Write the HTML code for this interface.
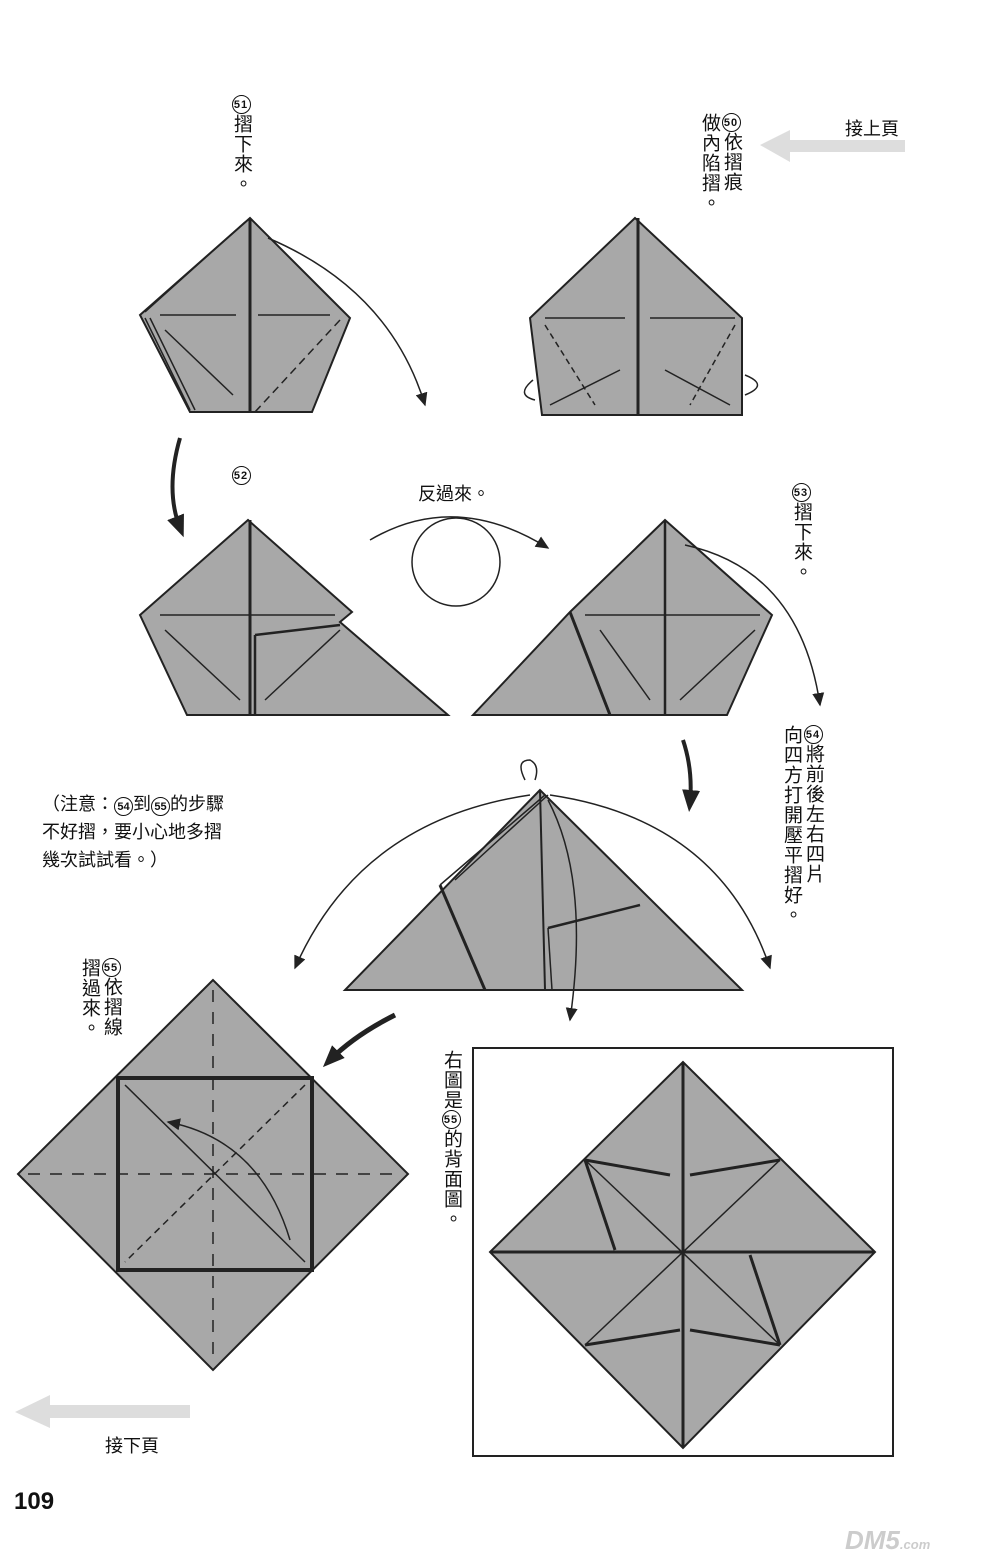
<!DOCTYPE html>
<html><head><meta charset="utf-8"><style>
body{margin:0;background:#fff;}
.v{position:absolute;writing-mode:vertical-rl;font-family:"Liberation Sans","Noto Sans CJK TC",sans-serif;font-size:19px;line-height:22px;color:#111;letter-spacing:1px;}
.h{position:absolute;font-family:"Liberation Sans","Noto Sans CJK TC",sans-serif;font-size:18px;color:#111;}
.c{display:inline-block;width:19px;height:19px;border:1.5px solid #111;border-radius:50%;font-size:11px;line-height:19px;text-align:center;writing-mode:horizontal-tb;font-weight:bold;box-sizing:border-box;background:#fff;}
</style></head><body>
<div style="position:relative;width:1000px;height:1567px;overflow:hidden">
<svg width="1000" height="1567" style="position:absolute;left:0;top:0" fill="none" stroke="#222" stroke-width="2">
<defs><marker id="a" markerWidth="10" markerHeight="10" refX="8" refY="5" orient="auto"><path d="M0,1 L9,5 L0,9 z" fill="#222" stroke="none"/></marker>
<marker id="b" markerUnits="userSpaceOnUse" markerWidth="24" markerHeight="24" refX="12" refY="12" orient="auto"><path d="M0,3 L22,12 L0,21 z" fill="#222" stroke="none"/></marker></defs>
<g fill="#a8a8a8">
<polygon points="250,218 140,315 190,412 312,412 350,318"/>
<polygon points="635,218 530,318 542,415 742,415 742,318"/>
<polygon points="248,520 140,615 187,715 448,715 340,622 352,612"/>
<polygon points="665,520 772,615 727,715 473,715 570,612"/>
<polygon points="540,790 345,990 742,990"/>
<polygon points="213,980 18,1174 213,1370 408,1174"/>
<polygon points="683,1062 490,1252 683,1448 875,1252"/>
</g>
<g stroke-width="1.5">
<line x1="250" y1="218" x2="250" y2="412" stroke-width="3"/>
<line x1="160" y1="315" x2="236" y2="315"/><line x1="258" y1="315" x2="330" y2="315"/>
<line x1="165" y1="330" x2="233" y2="395"/>
<line x1="340" y1="320" x2="255" y2="412" stroke-dasharray="8,5"/>
<path d="M145,318 L190,410 M150,318 L195,410 M245,222 L145,312"/>
<path d="M268,238 Q390,290 425,405" marker-end="url(#a)"/>
<line x1="638" y1="218" x2="638" y2="415" stroke-width="3"/>
<line x1="545" y1="318" x2="625" y2="318"/><line x1="650" y1="318" x2="735" y2="318"/>
<path d="M545,325 L595,405 M735,325 L690,405" stroke-dasharray="6,4"/>
<path d="M550,405 L620,370 M730,405 L665,370"/>
<path d="M533,380 Q515,395 535,400 M745,375 Q770,385 745,395"/>
<line x1="250" y1="520" x2="250" y2="715" stroke-width="3"/>
<line x1="160" y1="615" x2="335" y2="615"/>
<line x1="255" y1="635" x2="340" y2="625" stroke-width="2.5"/><line x1="255" y1="635" x2="255" y2="715" stroke-width="2.5"/>
<line x1="165" y1="630" x2="240" y2="700"/><line x1="265" y1="700" x2="340" y2="630"/>
<line x1="570" y1="612" x2="610" y2="715" stroke-width="3"/>
<line x1="665" y1="520" x2="665" y2="715" stroke-width="2.5"/>
<line x1="585" y1="615" x2="760" y2="615"/><line x1="600" y1="630" x2="650" y2="700"/><line x1="680" y1="700" x2="755" y2="630"/>
<path d="M685,545 Q800,570 820,705" marker-end="url(#a)"/>
<path d="M370,540 Q455,490 548,548" marker-end="url(#a)"/>
<circle cx="456" cy="562" r="44"/>
<path d="M180,438 Q165,490 180,528" stroke-width="4" marker-end="url(#b)"/>
<path d="M683,740 Q693,770 690,802" stroke-width="4" marker-end="url(#b)"/>
<line x1="440" y1="885" x2="485" y2="990" stroke-width="3"/>
<line x1="540" y1="790" x2="545" y2="990" stroke-width="2"/>
<line x1="548" y1="928" x2="640" y2="905" stroke-width="2.5"/><line x1="548" y1="928" x2="552" y2="990"/>
<path d="M545,795 L440,885 M548,795 L455,880"/>
<path d="M530,795 Q360,820 295,968" marker-end="url(#a)"/>
<path d="M550,795 Q720,820 770,968" marker-end="url(#a)"/>
<path d="M548,800 Q590,880 570,1020" marker-end="url(#a)"/>
<path d="M525,780 Q515,760 530,760 Q540,765 535,780"/>
<path d="M395,1015 Q355,1035 330,1060" stroke-width="5" marker-end="url(#b)"/>
<rect x="118" y="1078" width="194" height="192" stroke-width="4"/>
<line x1="125" y1="1085" x2="305" y2="1262"/><line x1="305" y1="1085" x2="125" y2="1262" stroke-dasharray="7,5"/>
<line x1="213" y1="990" x2="213" y2="1360" stroke-dasharray="12,10"/>
<line x1="28" y1="1174" x2="400" y2="1174" stroke-dasharray="12,10"/>
<path d="M290,1240 Q260,1140 168,1122" marker-end="url(#a)"/>
<line x1="683" y1="1062" x2="683" y2="1448" stroke-width="3"/>
<line x1="490" y1="1252" x2="875" y2="1252" stroke-width="3"/>
<line x1="585" y1="1160" x2="780" y2="1345"/><line x1="780" y1="1160" x2="585" y2="1345"/>
<path d="M585,1160 L615,1250 M585,1160 L670,1175 M780,1160 L690,1175 M780,1345 L750,1255 M780,1345 L690,1330 M585,1345 L680,1330" stroke-width="3"/>
<rect x="473" y="1048" width="420" height="408" stroke-width="2"/>
</g>
<path d="M760,145 L790,130 L790,140 L905,140 L905,152 L790,152 L790,162 z" fill="#ddd" stroke="none"/>
<path d="M15,1412 L50,1395 L50,1405 L190,1405 L190,1418 L50,1418 L50,1428 z" fill="#ddd" stroke="none"/>
</svg>
<div class="v" style="left:230px;top:95px"><span class="c">51</span>摺下來。</div>
<div class="v" style="left:698px;top:113px"><span class="c">50</span>依摺痕<br>做內陷摺。</div>
<div class="h" style="left:845px;top:115px">接上頁</div>
<div class="h" style="left:105px;top:1432px">接下頁</div>
<div class="v" style="left:230px;top:466px"><span class="c">52</span></div>
<div class="h" style="left:418px;top:480px">反過來。</div>
<div class="v" style="left:790px;top:483px"><span class="c">53</span>摺下來。</div>
<div class="v" style="left:780px;top:725px"><span class="c">54</span>將前後左右四片<br>向四方打開壓平摺好。</div>
<div class="h" style="left:42px;top:790px;line-height:28px">（注意：<span class="c">54</span>到<span class="c">55</span>的步驟<br>不好摺，要小心地多摺<br>幾次試試看。）</div>
<div class="v" style="left:78px;top:958px"><span class="c">55</span>依摺線<br>摺過來。</div>
<div class="v" style="left:440px;top:1050px">右圖是<span class="c">55</span>的背面圖。</div>
<div class="h" style="left:14px;top:1488px;font-size:24px;font-weight:bold">109</div>
<div class="h" style="left:845px;top:1525px;font-size:26px;font-weight:bold;color:#ccc;font-style:italic">DM5<span style="font-size:13px">.com</span></div>
</div>
</body></html>
